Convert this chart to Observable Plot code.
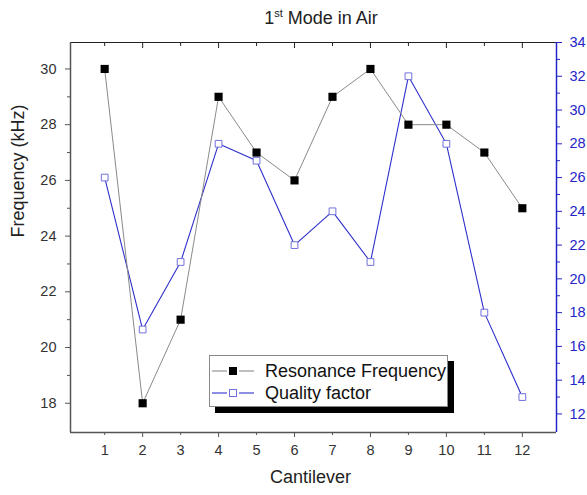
<!DOCTYPE html>
<html>
<head>
<meta charset="utf-8">
<script src="https://cdn.jsdelivr.net/npm/d3@7"></script>
<script src="https://cdn.jsdelivr.net/npm/@observablehq/plot@0.6"></script>
<style>
  html, body { margin: 0; padding: 0; background: #fff; }
  #wrap { position: relative; width: 587px; height: 495px; font-family: "Liberation Sans", Arial, sans-serif; }
  #title { position: absolute; left: 321px; top: 7px; transform: translateX(-50%); font-size: 18px; color: #222; white-space: nowrap; }
  #title sup { font-size: 11px; }
  #legend { position: absolute; left: 209px; top: 355px; width: 237px; height: 50px; border: 1px solid #888; background: #fff; box-shadow: 6px 6px 0 #000; font-size: 18px; color: #111; }
  .row { position: absolute; left: 0; height: 22px; width: 100%; }
  .row svg { position: absolute; left: 2px; top: 0; }
  .row span { position: absolute; left: 55px; top: 1px; white-space: nowrap; line-height: 20px; }
</style>
</head>
<body>
<div id="wrap">
  <div id="chart"></div>
  <div id="title">1<sup>st</sup> Mode in Air</div>
  <div id="legend"></div>
</div>
<script>
// ---- data ----
const cantilever = [1, 2, 3, 4, 5, 6, 7, 8, 9, 10, 11, 12];
const resonanceFrequency = [30, 18, 21, 29, 27, 26, 29, 30, 28, 28, 27, 25];
const qualityFactor = [26, 17, 21, 28, 27, 22, 24, 21, 32, 28, 18, 13];
const xMajorTicks = [2, 4, 6, 8, 10, 12];
const xMinorTicks = [1, 3, 5, 7, 9, 11];
const leftMajorTicks = [18, 20, 22, 24, 26, 28, 30];
const leftMinorTicks = [19, 21, 23, 25, 27, 29];
const rightMajorTicks = [12, 14, 16, 18, 20, 22, 24, 26, 28, 30, 32, 34];
const rightMinorTicks = [13, 15, 17, 19, 21, 23, 25, 27, 29, 31, 33];
const seriesNames = ["Resonance Frequency", "Quality factor"];

const xDomain = [0.1, 12.9];
const leftDomain = [16.95, 30.95];
const rightDomain = [10.9, 34];

const toLeft = q => leftDomain[0] + (q - rightDomain[0]) * (leftDomain[1] - leftDomain[0]) / (rightDomain[1] - rightDomain[0]);
const fromLeft = v => rightDomain[0] + (v - leftDomain[0]) * (rightDomain[1] - rightDomain[0]) / (leftDomain[1] - leftDomain[0]);

const freqData = cantilever.map((c, i) => ({c, v: resonanceFrequency[i]}));
const qData = cantilever.map((c, i) => ({c, v: toLeft(qualityFactor[i])}));

const blue = "#2424c8";
const axisGray = "#555";
const textGray = "#333";

const chart = Plot.plot({
  width: 587,
  height: 495,
  marginTop: 42,
  marginRight: 31,
  marginBottom: 63,
  marginLeft: 70,
  style: {fontFamily: "'Liberation Sans', Arial, sans-serif", fontSize: "14.5px", background: "#fff", overflow: "visible"},
  x: {domain: xDomain, label: null},
  y: {domain: leftDomain, label: null},
  marks: [
    // bottom axis
    Plot.axisX({ticks: xMajorTicks, anchor: "bottom", tickSize: 5, tickPadding: 7, label: null, color: textGray, stroke: axisGray}),
    Plot.axisX({ticks: xMinorTicks, anchor: "bottom", tickSize: 3, tickPadding: 9, label: null, color: textGray, stroke: axisGray}),
    // top axis (inward ticks, no labels)
    Plot.axisX({ticks: xMajorTicks, anchor: "top", tickSize: -5, tickFormat: () => "", label: null, stroke: "#222"}),
    Plot.axisX({ticks: xMinorTicks, anchor: "top", tickSize: -3, tickFormat: () => "", label: null, stroke: "#222"}),
    // left axis
    Plot.axisY({ticks: leftMajorTicks, anchor: "left", tickSize: 5, tickPadding: 9, label: null, color: textGray, stroke: axisGray}),
    Plot.axisY({ticks: leftMinorTicks, anchor: "left", tickSize: 3, tickFormat: () => "", label: null, stroke: axisGray}),
    // right axis (quality factor)
    Plot.axisY({ticks: rightMajorTicks.map(toLeft), anchor: "right", tickSize: 5, tickPadding: 8, tickFormat: d => Math.round(fromLeft(d)), label: null, color: blue}),
    Plot.axisY({ticks: rightMinorTicks.map(toLeft), anchor: "right", tickSize: 3, tickFormat: () => "", label: null, color: blue}),
    // frame lines
    Plot.ruleY([leftDomain[1]], {stroke: "#222", strokeWidth: 1.2}),
    Plot.ruleY([leftDomain[0]], {stroke: axisGray, strokeWidth: 1.5}),
    Plot.ruleX([xDomain[0]], {stroke: axisGray, strokeWidth: 1.5}),
    Plot.ruleX([xDomain[1]], {stroke: blue, strokeWidth: 1.5}),
    // quality factor series
    Plot.line(qData, {x: "c", y: "v", stroke: "#3030cc", strokeWidth: 1.1}),
    Plot.dot(qData, {x: "c", y: "v", symbol: "square", r: 3.8, fill: "#fff", stroke: "#7070dc", strokeWidth: 1}),
    // resonance frequency series
    Plot.line(freqData, {x: "c", y: "v", stroke: "#8a8a8a", strokeWidth: 1}),
    Plot.dot(freqData, {x: "c", y: "v", symbol: "square", r: 4.6, fill: "#000", stroke: "none"}),
    // axis titles
    Plot.text(["Cantilever"], {text: d => d, frameAnchor: "bottom", dy: 50, dx: -3, fontSize: 18, fill: "#222"}),
    Plot.text(["Frequency (kHz)"], {text: d => d, frameAnchor: "left", dx: -52, rotate: -90, fontSize: 18, fill: "#222"})
  ]
});
document.getElementById("chart").appendChild(chart);

// legend
const legend = document.getElementById("legend");
const legendStyles = [
  {line: "#8a8a8a", fill: "#000", stroke: "none", size: 8},
  {line: "#3030cc", fill: "#fff", stroke: "#7070dc", size: 7}
];
seriesNames.forEach((name, i) => {
  const s = legendStyles[i];
  const row = document.createElement("div");
  row.className = "row";
  row.style.top = (i === 0 ? 4 : 26) + "px";
  const half = s.size / 2;
  row.innerHTML =
    `<svg width="44" height="22"><line x1="0" x2="15" y1="11" y2="11" stroke="${s.line}" stroke-width="1.1"/>` +
    `<line x1="27" x2="42" y1="11" y2="11" stroke="${s.line}" stroke-width="1.1"/>` +
    `<rect x="${21 - half}" y="${11 - half}" width="${s.size}" height="${s.size}" fill="${s.fill}" stroke="${s.stroke}"/></svg>` +
    `<span>${name}</span>`;
  legend.appendChild(row);
});
</script>
</body>
</html>
